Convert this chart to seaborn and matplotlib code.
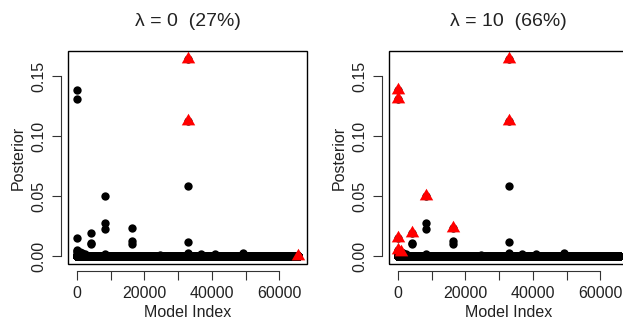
import numpy as np
import pandas as pd
import matplotlib
matplotlib.use('Agg')
import matplotlib.pyplot as plt
from matplotlib.patches import Rectangle
from matplotlib.path import Path
from matplotlib.markers import MarkerStyle
import seaborn as sns

# 2^16 candidate models, almost all with posterior ~ 0
n_models = 65536

# models with visible posterior mass (index, posterior)
top_index = [1, 3, 5, 2, 9, 17, 900, 1500, 2500,
             4097, 4099, 4100,
             8193, 8195, 8197, 8200,
             16385, 16387, 16389,
             24577,
             32769, 32771, 32773, 32775, 32777, 33000,
             36865, 40961, 49153]
top_posterior = [0.1387, 0.1308, 0.0152, 0.0049, 0.0040, 0.0030, 0.0035, 0.0025, 0.0020,
                 0.0190, 0.0107, 0.0100,
                 0.0499, 0.0272, 0.0223, 0.0015,
                 0.0237, 0.0124, 0.0105,
                 0.0010,
                 0.1643, 0.1128, 0.0586, 0.0119, 0.0030, 0.0020,
                 0.0020, 0.0018, 0.0028]

# highlighted models (red triangles) per panel
red_left = [32769, 32771, 65536]
red_right = [1, 3, 5, 2, 900, 4097, 8193, 16385, 32769, 32771]

titles = ['λ = 0  (27%)', 'λ = 10  (66%)']
x_ticks = [0, 10000, 20000, 30000, 40000, 50000, 60000]
x_labels = ['0', '', '20000', '', '40000', '', '60000']
y_ticks = [0.0, 0.05, 0.10, 0.15]
y_labels = ['0.00', '0.05', '0.10', '0.15']

post = np.zeros(n_models)
post[np.array(top_index) - 1] = top_posterior
df = pd.DataFrame({'model': np.arange(1, n_models + 1), 'posterior': post})

# R-like pch 17: triangle centred on its centroid
tri = MarkerStyle(Path([(0, 1), (-0.866, -0.5), (0.866, -0.5), (0, 1)],
                       [Path.MOVETO, Path.LINETO, Path.LINETO, Path.CLOSEPOLY]))

sns.set_style('white')
plt.rcParams['font.family'] = ['Liberation Sans', 'DejaVu Sans']

fig = plt.figure(figsize=(6.23, 3.23), dpi=100)
W, H = 623, 323
box_w, box_h = 239, 213
lefts = [68, 389]
top = 51

ymax = df.posterior.max()
for left, reds, title in zip(lefts, [red_left, red_right], titles):
    ax = fig.add_axes([left / W, 1 - (top + box_h) / H, box_w / W, box_h / H])
    sns.scatterplot(data=df, x='model', y='posterior', color='black', s=36,
                    linewidth=0, marker='o', ax=ax, rasterized=True)
    sub = df[df.model.isin(reds)]
    sns.scatterplot(data=sub, x='model', y='posterior', color='red', s=125,
                    linewidth=0, marker=tri, ax=ax, zorder=5)

    ax.set_xlim(1 - 0.04 * (n_models - 1), n_models + 0.04 * (n_models - 1))
    ax.set_ylim(-0.04 * ymax, 1.04 * ymax)

    for s in ['top', 'right']:
        ax.spines[s].set_visible(False)
    for s in ['left', 'bottom']:
        ax.spines[s].set_position(('outward', 5))
        ax.spines[s].set_color('#333333')
        ax.spines[s].set_linewidth(0.8)
    ax.spines['bottom'].set_bounds(0, 60000)
    ax.spines['left'].set_bounds(0, 0.15)
    ax.add_patch(Rectangle((0, 0), 1, 1, transform=ax.transAxes, fill=False,
                           lw=1.0, edgecolor='black', clip_on=False, zorder=10))

    ax.set_xticks(x_ticks)
    ax.set_xticklabels(x_labels)
    ax.set_yticks(y_ticks)
    ax.set_yticklabels(y_labels, rotation=90, va='center')
    ax.tick_params(axis='both', direction='out', length=6.5, width=0.8,
                   color='#333333', labelsize=11.5, labelcolor='#222222', pad=4,
                   bottom=True, left=True)

    ax.set_xlabel('Model Index', fontsize=11.5, color='#222222', labelpad=3.5)
    ax.set_ylabel('Posterior', fontsize=11.5, color='#222222', labelpad=4)
    ax.text(0.5, 1 + 29.5 / box_h, title, transform=ax.transAxes, ha='center',
            va='center', fontsize=14, color='#222222')

fig.savefig('out.png', dpi=100)
